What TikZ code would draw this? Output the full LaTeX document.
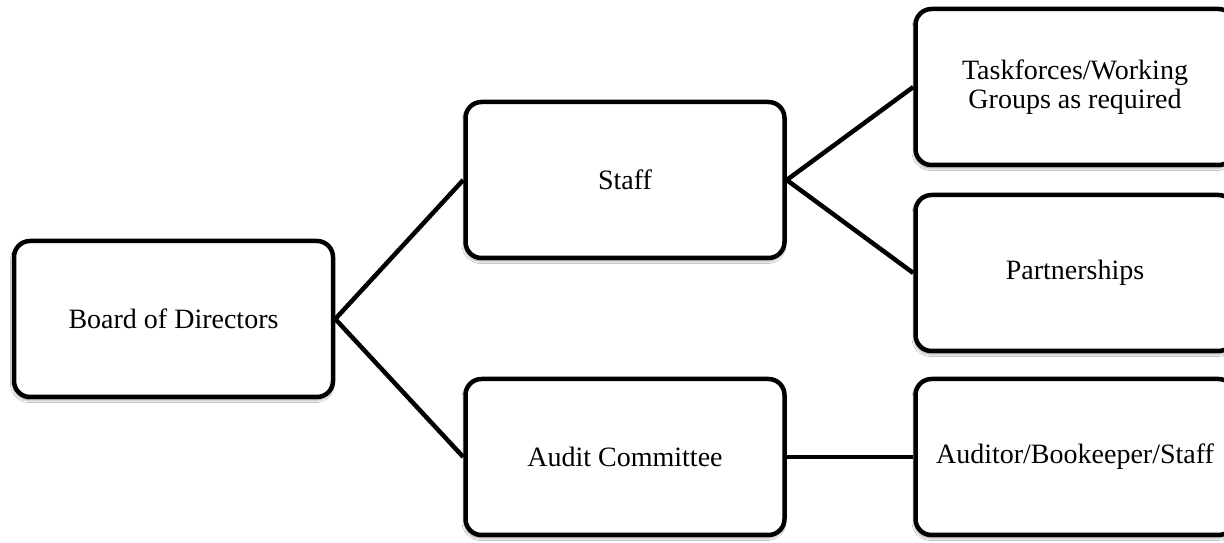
\documentclass[tikz,border=0pt]{standalone}
\usepackage{fontspec}
\setmainfont{Liberation Serif}
\usetikzlibrary{shadows.blur}
\begin{document}
\begin{tikzpicture}[x=1pt,y=1pt,
  orgbox/.style={draw=black, line width=4.5pt, fill=white, rounded corners=16pt,
    minimum width=319pt, minimum height=156pt, align=center, inner sep=0pt,
    font=\fontsize{28}{29}\selectfont,
    blur shadow={shadow xshift=-1pt, shadow yshift=-3pt, shadow blur radius=2.5pt, shadow opacity=45}},
  link/.style={draw=black, line width=4.5pt}]
\useasboundingbox (0,0) rectangle (1224,543);
\clip (0,0) rectangle (1224,543);
\fill[white] (0,0) rectangle (1224,543);

\node[orgbox] (board)   at (173.5,224) {Board of Directors};
\node[orgbox] (staff)   at (625,363)   {Staff};
\node[orgbox] (audit)   at (625,86)    {Audit Committee};
\node[orgbox] (task)    at (1075,456)  {Taskforces/Working\\Groups as required};
\node[orgbox] (partner) at (1075,270)  {Partnerships};
\node[orgbox] (auditor) at (1075,86)   {Auditor/Bookeeper/Staff};

\draw[link] (board.east) -- (staff.west);
\draw[link] (board.east) -- (audit.west);
\draw[link] (staff.east) -- (task.west);
\draw[link] (staff.east) -- (partner.west);
\draw[link] (audit.east) -- (auditor.west);
\end{tikzpicture}
\end{document}
